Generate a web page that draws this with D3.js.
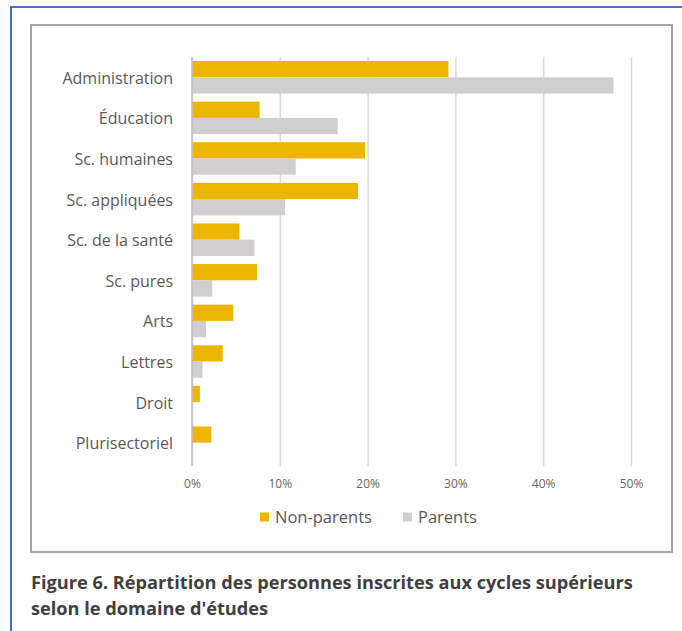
<!DOCTYPE html>
<html><head><meta charset="utf-8">
<script src="https://cdn.jsdelivr.net/npm/d3@7"></script>
<style>
html,body{margin:0;padding:0;background:#fff;}
svg{display:block;}
</style></head>
<body>
<svg id="c" width="682" height="631"></svg>
<script>
const categories = ["Administration","Éducation","Sc. humaines","Sc. appliquées","Sc. de la santé","Sc. pures","Arts","Lettres","Droit","Plurisectoriel"];
const nonParents = [29.2, 7.7, 19.7, 18.9, 5.4, 7.4, 4.7, 3.5, 0.9, 2.2];
const parents = [48.0, 16.6, 11.8, 10.6, 7.1, 2.3, 1.6, 1.2, 0, 0];
const seriesNames = ["Non-parents","Parents"];
const seriesColors = ["#EDB400","#D0CECE"];
const xTicks = [0,10,20,30,40,50];
const captionLines = ["Figure 6. Répartition des personnes inscrites aux cycles supérieurs","selon le domaine d'études"];

const svg = d3.select("#c");
svg.append("path").attr("d","M11,631 L11,7 L682,7").attr("fill","none").attr("stroke","#4472C4").attr("stroke-width",2);
svg.append("rect").attr("x",31).attr("y",25).attr("width",641).attr("height",527)
  .attr("fill","#fff").attr("stroke","#A6A6A6").attr("stroke-width",2);

const x = d3.scaleLinear().domain([0,50]).range([192,631]);
const y = d3.scaleBand().domain(categories).range([57,463]).paddingInner(0.2).paddingOuter(0.1);
const ys = d3.scaleBand().domain(seriesNames).range([0,y.bandwidth()]);

const xAxis = d3.axisBottom(x).tickValues(xTicks).tickFormat(d=>d+"%").tickSize(-(463-57)).tickPadding(21);
const gx = svg.append("g").attr("transform","translate(0,466)").call(xAxis);
gx.select(".domain").remove();
gx.selectAll(".tick line").attr("stroke","#D9D9D9").attr("stroke-width",1.5).attr("y1",0).attr("y2",-(466-57));
gx.selectAll(".tick text").attr("fill","#666666").style("font-family","'Open Sans', sans-serif").style("font-size","12px").attr("dy","0.1em");

const rows = categories.map((c,i)=>({c, vals:[nonParents[i], parents[i]]}));
const g = svg.append("g");
rows.forEach(r=>{
  r.vals.forEach((v,j)=>{
    g.append("rect").attr("x",x(0)).attr("y",y(r.c)+ys(seriesNames[j]))
      .attr("width",x(v)-x(0)).attr("height",ys.bandwidth()).attr("fill",seriesColors[j]);
  });
});
svg.append("line").attr("x1",x(0)).attr("x2",x(0)).attr("y1",57).attr("y2",466).attr("stroke","#BFBFBF").attr("stroke-width",1.5);

const yAxis = d3.axisLeft(y).tickSize(0).tickPadding(0);
const gy = svg.append("g").attr("transform","translate(173,0)").call(yAxis);
gy.select(".domain").remove();
gy.selectAll(".tick text").attr("fill","#595959").style("font-family","'Open Sans', sans-serif").style("font-size","16px").attr("dy","0.4em");

const lg = svg.append("g").attr("transform","translate(0,517)");
const legX = [260,403];
seriesNames.forEach((s,i)=>{
  lg.append("rect").attr("x",legX[i]).attr("y",-4.5).attr("width",9).attr("height",9).attr("fill",seriesColors[i]);
  lg.append("text").attr("x",legX[i]+15).attr("y",0).attr("dy","0.35em").text(s)
    .attr("fill","#595959").style("font-family","'Open Sans', sans-serif").style("font-size","16.5px");
});

captionLines.forEach((t,i)=>{
  svg.append("text").attr("x",31).attr("y",589+i*26).text(t)
    .attr("fill","#3F3F3F").style("font-family","'Open Sans', sans-serif").style("font-weight","bold").style("font-size","18.2px");
});
</script>
</body></html>
